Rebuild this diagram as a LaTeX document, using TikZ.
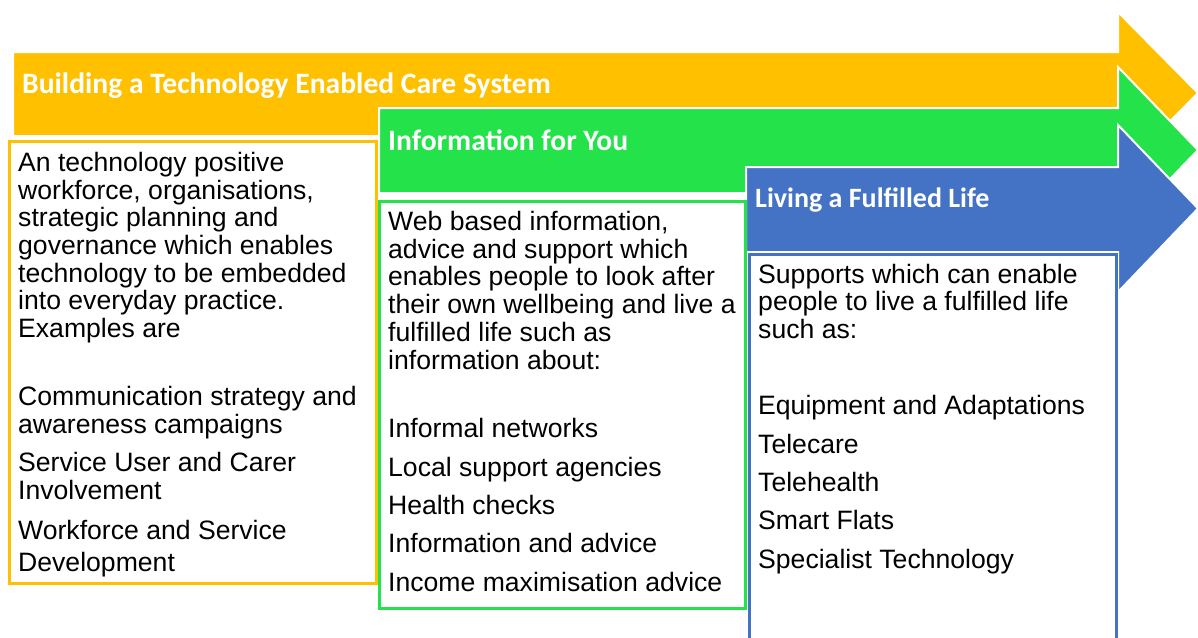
\documentclass[tikz,border=0pt]{standalone}
\usepackage{fontspec}
\setmainfont{Liberation Sans}
\newfontfamily\titlefont{Carlito}
\definecolor{corange}{HTML}{FFC000}
\definecolor{cgreen}{RGB}{36,226,74}
\definecolor{cblue}{HTML}{4472C4}
\tikzset{
  band/.style={draw=white, line width=2pt, line join=miter},
  panel/.style={line width=3pt},
  title/.style={anchor=base west, inner sep=0pt, text=white, font=\titlefont\bfseries\fontsize{29.6}{31}\selectfont},
  body/.style={anchor=base west, inner sep=0pt, align=left, text=black, font=\fontsize{26.6}{27.7}\selectfont},
  list/.style={anchor=base west, inner sep=0pt, align=left, text=black, font=\fontsize{26.6}{38.3}\selectfont},
}
\begin{document}
\begin{tikzpicture}[x=1pt,y=-1pt]
\clip (0,0) rectangle (1198,637);
\fill[white] (0,0) rectangle (1198,637);
% arrows
\path[band, fill=corange] (13,52) -- (1118,52) -- (1118,12) -- (1198,93) -- (1118,174) -- (1118,136) -- (13,136) -- cycle;
\path[band, fill=cgreen] (379,108) -- (1118,108) -- (1118,67) -- (1198,150) -- (1118,233) -- (1118,193) -- (379,193) -- cycle;
\path[band, fill=cblue] (746,167) -- (1118,167) -- (1118,125) -- (1198,208.5) -- (1118,292) -- (1118,252) -- (746,252) -- cycle;
% panels
\draw[panel, draw=corange] (9,141) rectangle (376,583);
\draw[panel, draw=cgreen] (379,201) rectangle (745,608);
\draw[panel, draw=cblue] (749,254) rectangle (1116,660);
% titles
\node[title] (t1) at (22,93) {Building a Technology Enabled Care System};
\node[title] (t2) at (388,150) {Information for You};
\node[title, font=\titlefont\bfseries\fontsize{28}{30}\selectfont] (t3) at (755,207) {Living a Fulfilled Life};
% yellow panel text (anchored at the baseline of the last line)
\node[body] (y1) at (18,337.5) {An technology positive\\workforce, organisations,\\strategic planning and\\governance which enables\\technology to be embedded\\into everyday practice.\\Examples are};
\node[body] (y2) at (18,433.5) {Communication strategy and\\awareness campaigns};
\node[body] (y3) at (18,499) {Service User and Carer\\Involvement};
\node[body, font=\fontsize{26.6}{31.7}\selectfont] (y4) at (18,571.5) {Workforce and Service\\Development};
% green panel text
\node[body] (g1) at (388,369) {Web based information,\\advice and support which\\enables people to look after\\their own wellbeing and live a\\fulfilled life such as\\information about:};
\node[list] (g2) at (388,591) {Informal networks\\Local support agencies\\Health checks\\Information and advice\\Income maximisation advice};
% blue panel text
\node[body] (b1) at (758,338.5) {Supports which can enable\\people to live a fulfilled life\\such as:};
\node[list] (b2) at (758,568) {Equipment and Adaptations\\Telecare\\Telehealth\\Smart Flats\\Specialist Technology};
\end{tikzpicture}
\end{document}
